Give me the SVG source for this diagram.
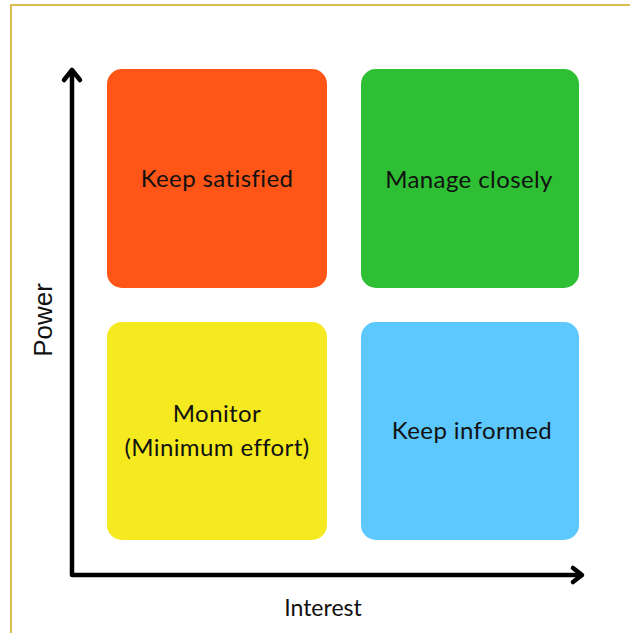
<svg xmlns="http://www.w3.org/2000/svg" width="630" height="633" viewBox="0 0 630 633">
<style>
.box{stroke:none}
.lbl{font-family:Lato,"Noto Sans",sans-serif;font-size:24px;letter-spacing:0.4px;fill:#111;text-anchor:middle}
.ax{stroke:#000;stroke-width:4.5;fill:none;stroke-linecap:round;stroke-linejoin:round}
</style>
<rect x="0" y="0" width="630" height="633" fill="#fff"/>
<rect x="11" y="5" width="640" height="660" fill="none" stroke="#DCBC4C" stroke-width="2"/>
<g id="keep-satisfied">
<rect class="box" x="107" y="69" width="220" height="219" rx="15" fill="#FF5617"/>
<text class="lbl" x="217" y="187">Keep satisfied</text>
</g>
<g id="manage-closely">
<rect class="box" x="361" y="69" width="218" height="219" rx="15" fill="#2EBF34"/>
<text class="lbl" x="469" y="188">Manage closely</text>
</g>
<g id="monitor">
<rect class="box" x="107" y="322" width="220" height="218" rx="15" fill="#F5EA20"/>
<text class="lbl" x="217" y="422">Monitor</text>
<text class="lbl" x="217" y="456">(Minimum effort)</text>
</g>
<g id="keep-informed">
<rect class="box" x="361" y="322" width="218" height="218" rx="15" fill="#5CC8FE"/>
<text class="lbl" x="472" y="439">Keep informed</text>
</g>
<g id="connectors">
<path class="ax" d="M72 71 V575 H581"/>
<path class="ax" d="M64 80 L72 70 L80 80"/>
<path class="ax" d="M573 568 L582 575 L573 582"/>
</g>
<text x="323" y="616" font-family="Lato,'Noto Sans',sans-serif" font-size="23" fill="#111" text-anchor="middle">Interest</text>
<text transform="translate(52,320) rotate(-90)" font-family="'Liberation Sans',Arial,sans-serif" font-size="26" fill="#111" text-anchor="middle">Power</text>
</svg>
